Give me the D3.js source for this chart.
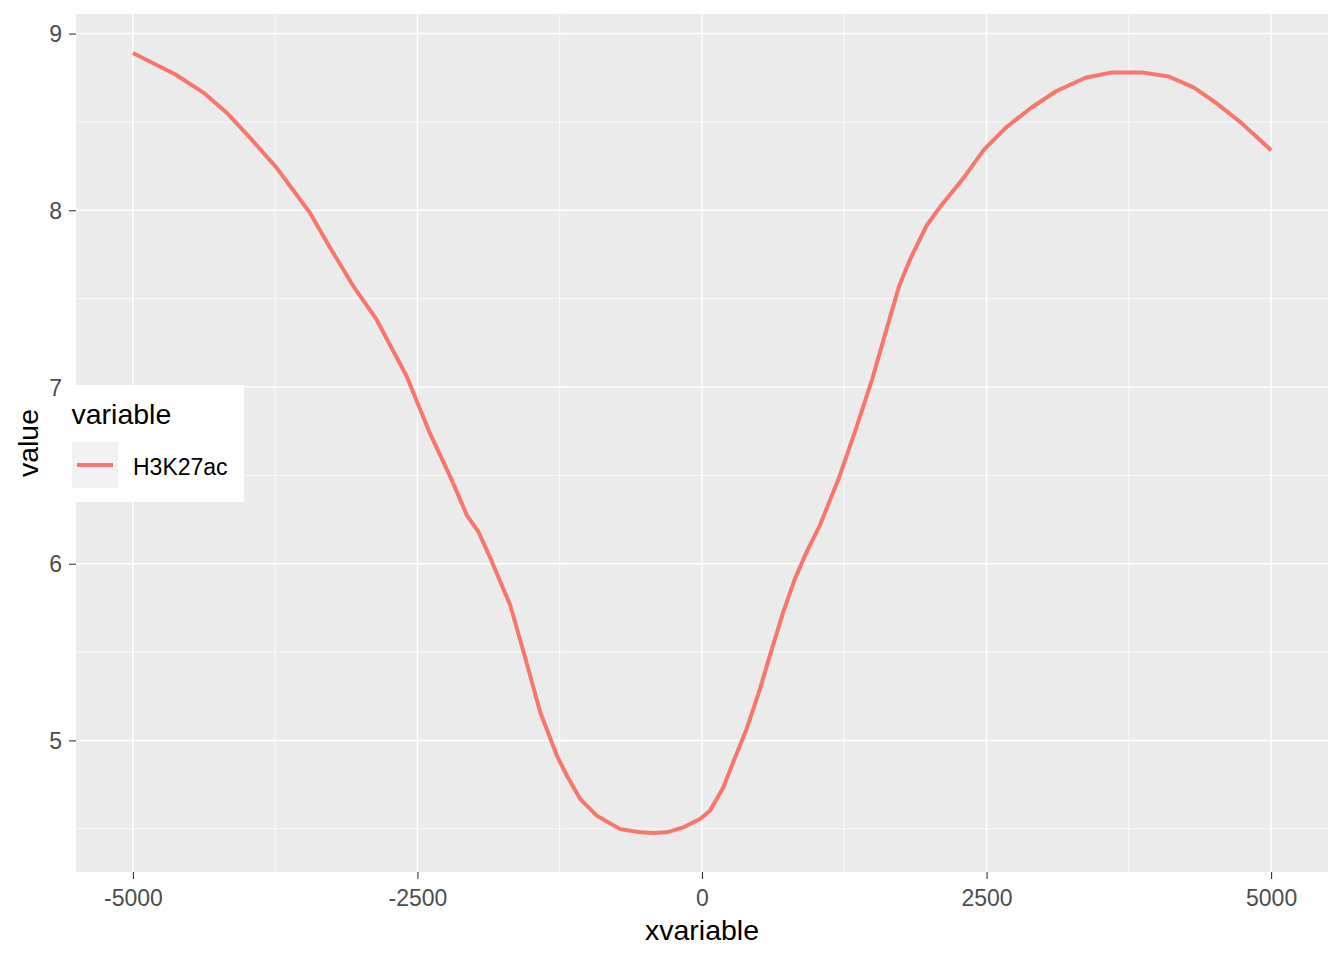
<!DOCTYPE html>
<html>
<head>
<meta charset="utf-8">
<script src="https://cdn.jsdelivr.net/npm/d3@7"></script>
<style>
  html, body { margin: 0; padding: 0; background: #fff; }
  svg { display: block; font-family: "Liberation Sans", Arial, sans-serif; }
</style>
</head>
<body>
<svg id="chart" width="1344" height="960"></svg>
<script>
// ---- data ----
const seriesName = "H3K27ac";
const xValues = [-5000, -4630, -4380, -4162, -3956, -3737, -3445, -3269, -3064, -2860, -2596, -2392, -2210, -2064, -1962, -1845, -1684, -1567, -1421, -1275, -1187, -1070, -924, -719, -544, -427, -310, -164, -18, 70, 187, 274, 392, 509, 596, 713, 816, 918, 1035, 1200, 1351, 1494, 1621, 1732, 1828, 1971, 2098, 2289, 2479, 2670, 2892, 3115, 3369, 3592, 3877, 4100, 4323, 4513, 4736, 5000];
const yValues = [8.89, 8.77, 8.666, 8.543, 8.40, 8.24, 7.986, 7.79, 7.571, 7.382, 7.062, 6.74, 6.49, 6.272, 6.178, 6.01, 5.763, 5.499, 5.159, 4.914, 4.80, 4.668, 4.574, 4.498, 4.48, 4.476, 4.48, 4.508, 4.555, 4.602, 4.734, 4.876, 5.065, 5.29, 5.48, 5.725, 5.914, 6.065, 6.216, 6.48, 6.76, 7.042, 7.326, 7.571, 7.722, 7.911, 8.024, 8.175, 8.345, 8.468, 8.58, 8.675, 8.75, 8.779, 8.779, 8.757, 8.694, 8.609, 8.496, 8.34];
const xTicks = [-5000, -2500, 0, 2500, 5000];
const xMinor = [-3750, -1250, 1250, 3750];
const yTicks = [5, 6, 7, 8, 9];
const yMinor = [4.5, 5.5, 6.5, 7.5, 8.5];
const xTitle = "xvariable";
const yTitle = "value";
const legendTitle = "variable";

const data = xValues.map((x, i) => ({ x, y: yValues[i] }));

// ---- layout ----
const panel = { left: 76, right: 1328, top: 14, bottom: 872 };
const lineColor = "#F8766D";
const lineWidth = 4;

const svg = d3.select("#chart");

const xExt = d3.extent(xValues), xPad = (xExt[1] - xExt[0]) * 0.05;
const yExt = d3.extent(yValues), yPad = (yExt[1] - yExt[0]) * 0.05;
const x = d3.scaleLinear().domain([xExt[0] - xPad, xExt[1] + xPad]).range([panel.left, panel.right]);
const y = d3.scaleLinear().domain([yExt[0] - yPad, yExt[1] + yPad]).range([panel.bottom, panel.top]);

// panel background
svg.append("rect")
  .attr("x", panel.left).attr("y", panel.top)
  .attr("width", panel.right - panel.left).attr("height", panel.bottom - panel.top)
  .attr("fill", "#EBEBEB");

const grid = svg.append("g");
grid.selectAll(".xminor").data(xMinor).enter().append("line")
  .attr("x1", d => x(d)).attr("x2", d => x(d))
  .attr("y1", panel.top).attr("y2", panel.bottom)
  .attr("stroke", "#fff").attr("stroke-width", 0.75);
grid.selectAll(".yminor").data(yMinor).enter().append("line")
  .attr("y1", d => y(d)).attr("y2", d => y(d))
  .attr("x1", panel.left).attr("x2", panel.right)
  .attr("stroke", "#fff").attr("stroke-width", 0.75);
grid.selectAll(".xmajor").data(xTicks).enter().append("line")
  .attr("x1", d => x(d)).attr("x2", d => x(d))
  .attr("y1", panel.top).attr("y2", panel.bottom)
  .attr("stroke", "#fff").attr("stroke-width", 1.5);
grid.selectAll(".ymajor").data(yTicks).enter().append("line")
  .attr("y1", d => y(d)).attr("y2", d => y(d))
  .attr("x1", panel.left).attr("x2", panel.right)
  .attr("stroke", "#fff").attr("stroke-width", 1.5);

// line
svg.append("path")
  .datum(data)
  .attr("fill", "none")
  .attr("stroke", lineColor)
  .attr("stroke-width", lineWidth)
  .attr("stroke-linejoin", "round")
  .attr("d", d3.line().x(d => x(d.x)).y(d => y(d.y)));

// axes
const fmt = d => String(d);
const xAxis = svg.append("g")
  .attr("transform", `translate(0,${panel.bottom})`)
  .call(d3.axisBottom(x).tickValues(xTicks).tickFormat(fmt).tickSize(7));
const yAxis = svg.append("g")
  .attr("transform", `translate(${panel.left},0)`)
  .call(d3.axisLeft(y).tickValues(yTicks).tickFormat(fmt).tickSize(7).tickPadding(7));
[xAxis, yAxis].forEach(a => {
  a.select(".domain").remove();
  a.selectAll(".tick line").attr("stroke", "#333333").attr("stroke-width", 1.1);
  a.selectAll(".tick text").attr("fill", "#4D4D4D").style("font-size", "23px")
    .style("font-family", "'Liberation Sans', Arial, sans-serif");
});
xAxis.selectAll(".tick text").attr("y", 34).attr("dy", 0);
yAxis.selectAll(".tick text").attr("dy", "0.35em");

// axis titles
svg.append("text")
  .attr("x", (panel.left + panel.right) / 2).attr("y", 940)
  .attr("text-anchor", "middle").attr("fill", "#000")
  .style("font-size", "28.5px").text(xTitle);
svg.append("text")
  .attr("transform", `translate(37.5,${(panel.top + panel.bottom) / 2}) rotate(-90)`)
  .attr("text-anchor", "middle").attr("fill", "#000")
  .style("font-size", "28.5px").text(yTitle);

// legend
const lg = svg.append("g");
lg.append("rect").attr("x", 62).attr("y", 385).attr("width", 182).attr("height", 117).attr("fill", "#fff");
lg.append("text").attr("x", 71.5).attr("y", 423.5).attr("fill", "#000").style("font-size", "28.5px").text(legendTitle);
lg.append("rect").attr("x", 72).attr("y", 442).attr("width", 46).attr("height", 46).attr("fill", "#F2F2F2");
lg.append("line").attr("x1", 77).attr("x2", 113).attr("y1", 465).attr("y2", 465)
  .attr("stroke", lineColor).attr("stroke-width", lineWidth);
lg.append("text").attr("x", 133).attr("y", 475).attr("fill", "#000").style("font-size", "23px").text(seriesName);
</script>
</body>
</html>
